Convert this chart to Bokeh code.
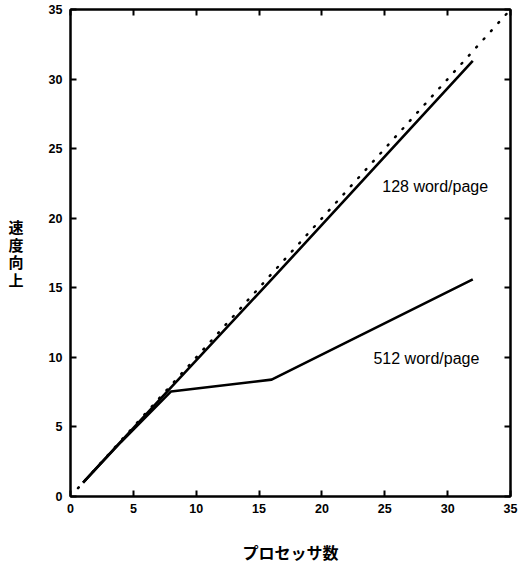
from bokeh.plotting import figure
from bokeh.models import Range1d, LinearAxis, FixedTicker, Label
from bokeh.embed import file_html
from bokeh.resources import INLINE

procs = [1, 2, 4, 8, 16, 32]
speedup_128 = [1.0, 1.98, 3.95, 7.85, 15.6, 31.3]
speedup_512 = [1.0, 1.97, 3.9, 7.55, 8.4, 15.6]
ideal_x = [0.6, 35]
ideal_y = [0.6, 35]
ticks = [0, 5, 10, 15, 20, 25, 30, 35]
label_128 = "128 word/page"
label_512 = "512 word/page"
xlabel = "プロセッサ数"
ylabel = "速\n度\n向\n上"

p = figure(width=518, height=566, x_range=Range1d(0, 35), y_range=Range1d(0, 35),
           output_backend="svg", toolbar_location=None,
           min_border_left=70, min_border_right=8, min_border_top=9, min_border_bottom=69)
p.grid.visible = False
p.outline_line_color = "black"
p.outline_line_width = 2

num_font = "Liberation Sans"
for ax in (p.xaxis[0], p.yaxis[0]):
    ax.ticker = FixedTicker(ticks=ticks)
    ax.major_tick_in = 6
    ax.major_tick_out = 0
    ax.minor_tick_in = 0
    ax.minor_tick_out = 0
    ax.major_tick_line_width = 2
    ax.axis_line_width = 2
    ax.major_label_text_font = num_font
    ax.major_label_text_font_style = "bold"
    ax.major_label_text_font_size = "12.5px"
    ax.major_label_text_color = "black"
    ax.axis_label_text_font = "Noto Sans CJK JP"
    ax.axis_label_text_font_style = "bold"
    ax.axis_label_text_color = "black"

p.xaxis.major_label_standoff = 7
p.xaxis.axis_label = xlabel
p.xaxis.axis_label_text_font_size = "16px"
p.xaxis.axis_label_standoff = 24

p.yaxis.major_label_standoff = 8
p.yaxis.axis_label = ylabel
p.yaxis.axis_label_orientation = "horizontal"
p.yaxis.axis_label_text_font_size = "15px"
p.yaxis.axis_label_text_line_height = 0.84
p.yaxis.axis_label_standoff = 22

for loc in ("above", "right"):
    ax = LinearAxis(ticker=FixedTicker(ticks=ticks))
    ax.major_tick_in = 6
    ax.major_tick_out = 0
    ax.minor_tick_in = 0
    ax.minor_tick_out = 0
    ax.major_tick_line_width = 2
    ax.axis_line_width = 2
    ax.major_label_overrides = {t: "" for t in ticks}
    ax.major_label_text_font_size = "1px"
    ax.major_label_standoff = 0
    p.add_layout(ax, loc)

p.line(ideal_x, ideal_y, line_color="black", line_width=2.5, line_dash="1 10", line_cap="round")
p.line(procs, speedup_128, line_color="black", line_width=2.6)
p.line(procs, speedup_512, line_color="black", line_width=2.6)

for txt, x, y in ((label_128, 24.8, 22.25), (label_512, 24.1, 9.95)):
    p.add_layout(Label(x=x, y=y, text=txt, text_font=num_font, text_font_size="16px",
                       text_baseline="alphabetic", text_color="black"))

open("out.html", "w").write(file_html(p, INLINE))
